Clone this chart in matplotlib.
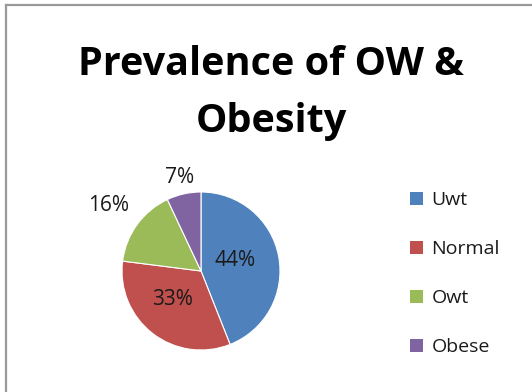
import numpy as np
import matplotlib
matplotlib.use("Agg")
import matplotlib.pyplot as plt
from matplotlib.lines import Line2D
from matplotlib.patches import Patch

categories = ["Uwt", "Normal", "Owt", "Obese"]
shares = [44, 33, 16, 7]
colors = ["#4F81BD", "#C0504D", "#9BBB59", "#8064A2"]
title = "Prevalence of OW &\nObesity"

plt.rcParams["font.family"] = ["Open Sans", "DejaVu Sans"]

W, H = 532, 392
fig = plt.figure(figsize=(W / 100, H / 100), dpi=100)
fig.patch.set_facecolor("white")

# chart-area frame (left and top edges)
fig.add_artist(Line2D([6 / W, 6 / W], [0, 1 - 5 / H], color="#9a9a9a", lw=1.6,
                      transform=fig.transFigure))
fig.add_artist(Line2D([6 / W, 1], [1 - 5 / H, 1 - 5 / H], color="#9a9a9a", lw=1.6,
                      transform=fig.transFigure))

# pie axes: centre (201, 271) px, radius 79 px
cx, cy, r = 201, 271, 79
ax = fig.add_axes([(cx - r) / W, (H - cy - r) / H, 2 * r / W, 2 * r / H])
wedges, _ = ax.pie(shares, colors=colors, startangle=90, counterclock=False,
                   radius=1.0, wedgeprops=dict(linewidth=0.8, edgecolor="white"))
ax.set_xlim(-1, 1)
ax.set_ylim(-1, 1)
ax.set_aspect("equal")
ax.axis("off")

total = float(sum(shares))
for w, v in zip(wedges, shares):
    mid = np.deg2rad((w.theta1 + w.theta2) / 2)
    if v / total >= 0.2:
        d = 0.5
        x, y = d * np.cos(mid) - 0.06, d * np.sin(mid) + 0.04
    else:
        d = 1.17 + 0.35 * abs(np.cos(mid))
        x, y = d * np.cos(mid), d * np.sin(mid) - 0.03
    ax.text(x, y, f"{v}%", ha="center", va="center",
            fontsize=15, color="#1a1a1a", clip_on=False)

fig.text(271 / W, 1 - 93 / H, title, ha="center", va="center", fontsize=28.5,
         fontweight="bold", color="black", linespacing=1.6)

handles = [Patch(facecolor=c, edgecolor="none") for c in colors]
leg = fig.legend(handles, categories, loc="upper left",
                 bbox_to_anchor=(410 / W, 1 - 191 / H), frameon=False,
                 fontsize=14, handlelength=0.65, handleheight=0.65,
                 handletextpad=0.45, labelspacing=1.6, borderaxespad=0,
                 borderpad=0)
for t in leg.get_texts():
    t.set_color("#1a1a1a")

fig.savefig("out.png", dpi=100, facecolor="white")
